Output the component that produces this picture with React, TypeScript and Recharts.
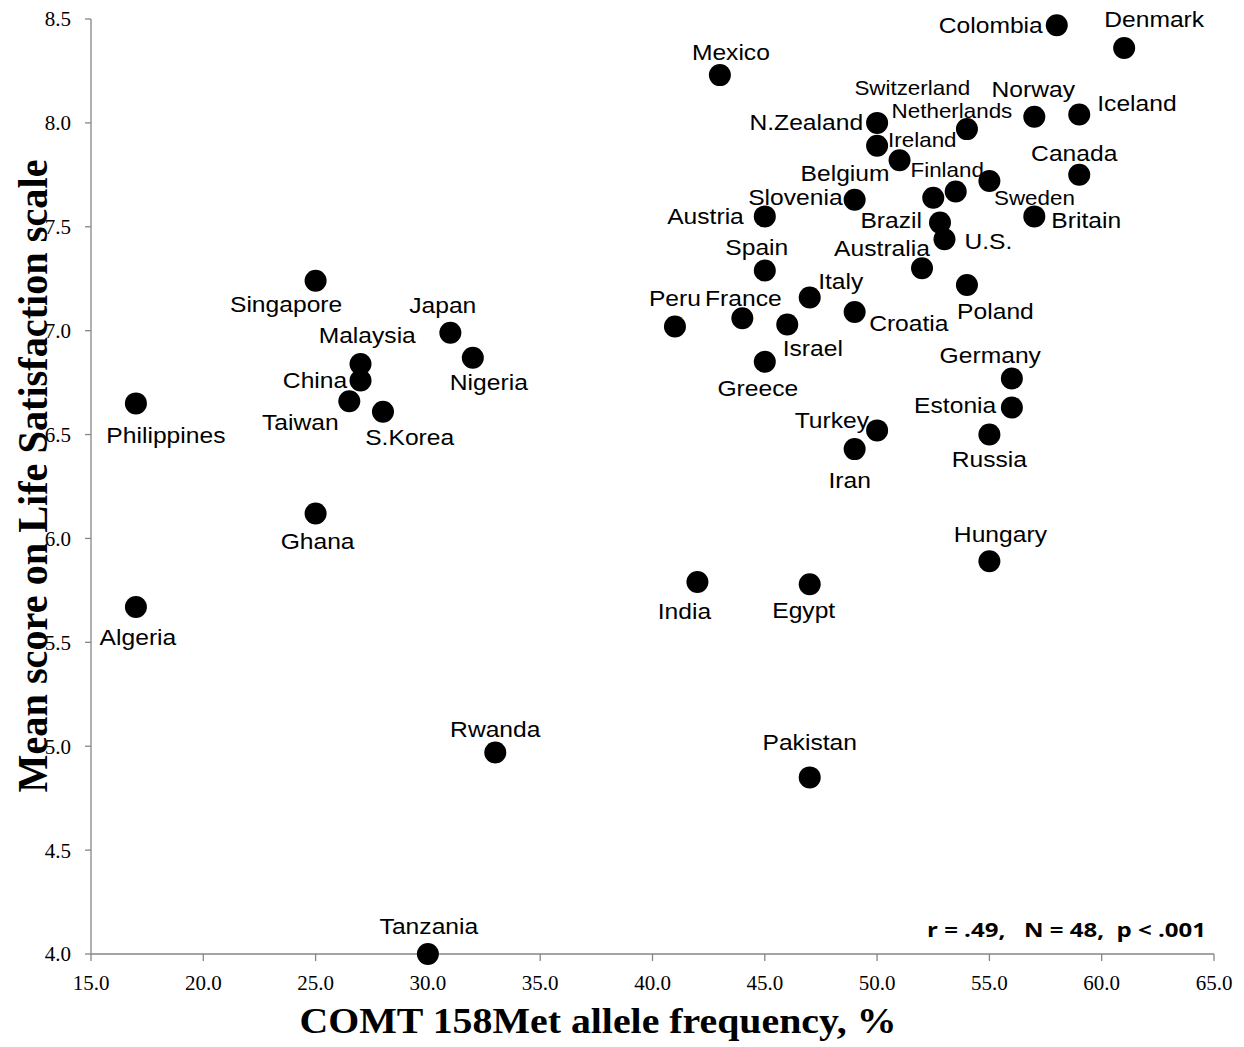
import React from 'react';
import { ScatterChart, Scatter, XAxis, YAxis } from 'recharts';

const countries = [
  'Colombia', 'Denmark', 'Mexico', 'N.Zealand', 'Switzerland', 'Netherlands', 'Norway', 'Iceland',
  'Ireland', 'Belgium', 'Finland', 'Canada', 'Sweden', 'Slovenia', 'Austria', 'Britain',
  'Brazil', 'U.S.', 'Spain', 'Australia', 'Italy', 'Peru', 'France', 'Croatia',
  'Poland', 'Israel', 'Greece', 'Germany', 'Estonia', 'Turkey', 'Russia', 'Iran',
  'Singapore', 'Japan', 'Malaysia', 'China', 'Nigeria', 'Taiwan', 'S.Korea', 'Philippines',
  'Hungary', 'India', 'Egypt', 'Ghana', 'Algeria', 'Rwanda', 'Pakistan', 'Tanzania',
];

const metFreq = [
  58.0, 61.0, 43.0, 50.0, 52.5, 54.0, 57.0, 59.0,
  50.0, 51.0, 53.5, 59.0, 55.0, 49.0, 45.0, 57.0,
  52.8, 53.0, 45.0, 52.0, 47.0, 41.0, 44.0, 49.0,
  54.0, 46.0, 45.0, 56.0, 56.0, 50.0, 55.0, 49.0,
  25.0, 31.0, 27.0, 27.0, 32.0, 26.5, 28.0, 17.0,
  55.0, 42.0, 47.0, 25.0, 17.0, 33.0, 47.0, 30.0,
];

const lifeSat = [
  8.47, 8.36, 8.23, 8.0, 7.64, 7.97, 8.03, 8.04,
  7.89, 7.82, 7.67, 7.75, 7.72, 7.63, 7.55, 7.55,
  7.52, 7.44, 7.29, 7.30, 7.16, 7.02, 7.06, 7.09,
  7.22, 7.03, 6.85, 6.77, 6.63, 6.52, 6.50, 6.43,
  7.24, 6.99, 6.84, 6.76, 6.87, 6.66, 6.61, 6.65,
  5.89, 5.79, 5.78, 6.12, 5.67, 4.97, 4.85, 4.0,
];

const xTicks = [15, 20, 25, 30, 35, 40, 45, 50, 55, 60, 65];
const yTicks = [4.0, 4.5, 5.0, 5.5, 6.0, 6.5, 7.0, 7.5, 8.0, 8.5];

// label placement relative to dot center: [dx, dy, anchor, fontSize]
type Anchor = 'start' | 'middle' | 'end';
const labelLayout: Record<string, [number, number, Anchor, number]> = {
  Colombia: [-14, 0, 'end', 22],
  Denmark: [30, -29, 'middle', 22],
  Mexico: [11, -23, 'middle', 22],
  'N.Zealand': [-14, 0, 'end', 22],
  Switzerland: [-21, -110, 'middle', 20],
  Netherlands: [-15, -18, 'middle', 20],
  Norway: [-1, -27, 'middle', 22],
  Iceland: [18, -11, 'start', 22],
  Ireland: [11, -6, 'start', 20],
  Belgium: [-10, 13, 'end', 22],
  Finland: [-8.5, -22, 'middle', 20],
  Canada: [-5, -21, 'middle', 22],
  Sweden: [45, 17, 'middle', 20],
  Slovenia: [-12, -2, 'end', 22],
  Austria: [-21, 0, 'end', 22],
  Britain: [17, 4, 'start', 22],
  Brazil: [-18, -2, 'end', 22],
  'U.S.': [20, 2, 'start', 22],
  Spain: [-8, -23, 'middle', 22],
  Australia: [-40, -20, 'middle', 22],
  Italy: [31, -16, 'middle', 22],
  Peru: [0, -28, 'middle', 22],
  France: [1, -20, 'middle', 22],
  Croatia: [14.5, 11, 'start', 22],
  Poland: [28.5, 27, 'middle', 22],
  Israel: [25.5, 24, 'middle', 22],
  Greece: [-7, 27, 'middle', 22],
  Germany: [-21.6, -22.7, 'middle', 22],
  Estonia: [-15.6, -2, 'end', 22],
  Turkey: [-8, -10, 'end', 22],
  Russia: [0, 25, 'middle', 22],
  Iran: [-5, 31, 'middle', 22],
  Singapore: [-29.5, 24, 'middle', 22],
  Japan: [-7.6, -27.7, 'middle', 22],
  Malaysia: [6.7, -28, 'middle', 22],
  China: [-13.3, 0, 'end', 22],
  Nigeria: [16, 25, 'middle', 22],
  Taiwan: [-49, 21, 'middle', 22],
  'S.Korea': [26.7, 26, 'middle', 22],
  Philippines: [30, 32, 'middle', 22],
  Hungary: [11, -27, 'middle', 22],
  India: [-13, 29, 'middle', 22],
  Egypt: [-6, 26, 'middle', 22],
  Ghana: [2, 28, 'middle', 22],
  Algeria: [2, 30, 'middle', 22],
  Rwanda: [0, -23, 'middle', 22],
  Pakistan: [0, -35, 'middle', 22],
  Tanzania: [1, -28, 'middle', 22],
};

const data = countries.map((name, i) => ({ name, x: metFreq[i], y: lifeSat[i] }));

const AXIS_COLOR = '#868686';

const DotShape = (props: any) => {
  const { cx, cy, payload } = props;
  if (cx == null || cy == null) return null;
  const lay = labelLayout[payload.name] || [0, -25, 'middle', 22];
  const [dx, dy, anchor, fs] = lay;
  return (
    <g>
      <circle cx={cx} cy={cy} r={11} fill="#000" />
      <text
        transform={`translate(${cx + dx},${cy + dy}) scale(1.12,1)`}
        textAnchor={anchor}
        dominantBaseline="central"
        fontFamily="'Liberation Sans', Arial, sans-serif"
        fontSize={fs}
        fill="#000"
      >
        {payload.name}
      </text>
    </g>
  );
};

export default function App() {
  return (
    <div style={{ position: 'absolute', left: 0, top: 0, width: 1244, height: 1047, background: '#fff' }}>
      <ScatterChart width={1244} height={1047} margin={{ top: 19, right: 30, bottom: 33, left: 0 }}>
        <XAxis
          type="number"
          dataKey="x"
          domain={[15, 65]}
          ticks={xTicks}
          interval={0}
          tickFormatter={(v: number) => v.toFixed(1)}
          height={60}
          axisLine={{ stroke: AXIS_COLOR, strokeWidth: 1.3 }}
          tickLine={{ stroke: AXIS_COLOR, strokeWidth: 1.3 }}
          tickSize={7}
          tickMargin={14}
          tick={{ fontSize: 21, fontFamily: "'Liberation Serif', 'Times New Roman', serif", fill: '#000' }}
        />
        <YAxis
          type="number"
          dataKey="y"
          domain={[4, 8.5]}
          ticks={yTicks}
          interval={0}
          tickFormatter={(v: number) => v.toFixed(1)}
          width={91}
          axisLine={{ stroke: AXIS_COLOR, strokeWidth: 1.3 }}
          tickLine={{ stroke: AXIS_COLOR, strokeWidth: 1.3 }}
          tickSize={6}
          tickMargin={14}
          tick={{ fontSize: 21, fontFamily: "'Liberation Serif', 'Times New Roman', serif", fill: '#000' }}
        />
        <Scatter data={data} fill="#000" shape={DotShape} isAnimationActive={false} />
      </ScatterChart>
      <svg
        width={1244}
        height={1047}
        style={{ position: 'absolute', left: 0, top: 0, pointerEvents: 'none' }}
      >
        <text
          transform="translate(47,476) rotate(-90) scale(1,1.1)"
          textAnchor="middle"
          fontFamily="'Liberation Serif', 'Times New Roman', serif"
          fontWeight="bold"
          fontSize={38}
          textLength={633}
          lengthAdjust="spacingAndGlyphs"
          fill="#000"
        >
          Mean score on Life Satisfaction scale
        </text>
        <text
          x={598}
          y={1033}
          textAnchor="middle"
          fontFamily="'Liberation Serif', 'Times New Roman', serif"
          fontWeight="bold"
          fontSize={35}
          textLength={597}
          lengthAdjust="spacingAndGlyphs"
          fill="#000"
        >
          COMT 158Met allele frequency, %
        </text>
        <text
          x={927}
          y={937}
          fontFamily="'Open Sans', 'Liberation Sans', sans-serif"
          fontWeight="bold"
          fontSize={19}
          textLength={279}
          lengthAdjust="spacingAndGlyphs"
          fill="#000"
          style={{ whiteSpace: 'pre' }}
        >
          {'r = .49,   N = 48,  p < .001'}
        </text>
      </svg>
    </div>
  );
}
